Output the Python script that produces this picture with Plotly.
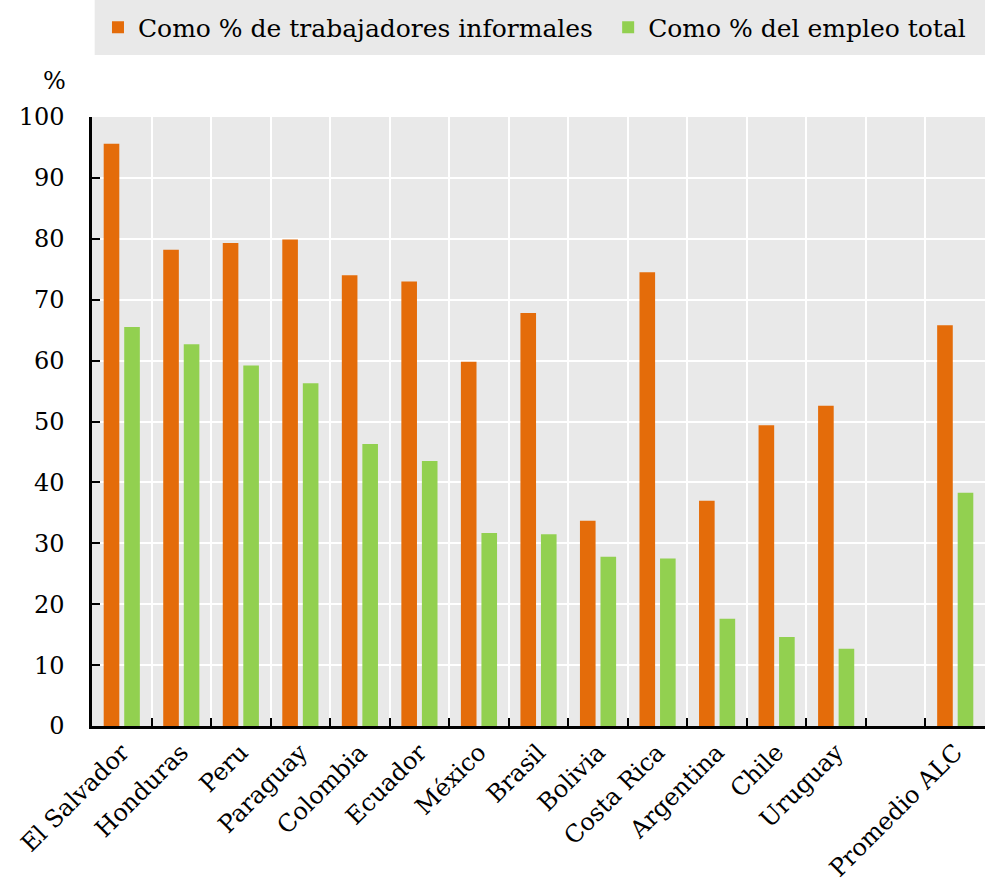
import plotly.graph_objects as go

categories = ["El Salvador", "Honduras", "Peru", "Paraguay", "Colombia", "Ecuador",
              "México", "Brasil", "Bolivia", "Costa Rica", "Argentina", "Chile",
              "Uruguay", " ", "Promedio ALC"]
informales = [95.6, 78.2, 79.3, 79.9, 74.0, 73.0, 59.8, 67.8, 33.7, 74.5, 37.0, 49.4, 52.6, None, 65.8]
empleo_total = [65.5, 62.7, 59.2, 56.3, 46.3, 43.5, 31.7, 31.5, 27.8, 27.5, 17.6, 14.6, 12.7, None, 38.3]
series_names = ["Como % de trabajadores informales", "Como % del empleo total"]
y_ticks = [0, 10, 20, 30, 40, 50, 60, 70, 80, 90, 100]

FONT = "Georgia, 'DejaVu Serif', serif"

fig = go.Figure()
fig.add_trace(go.Bar(x=categories, y=informales, name=series_names[0], legend="legend",
                     marker=dict(color="#e46c0a", line=dict(width=0))))
fig.add_trace(go.Bar(x=categories, y=empleo_total, name=series_names[1], legend="legend2",
                     marker=dict(color="#92d050", line=dict(width=0))))

legend_common = dict(orientation="h", xanchor="left", y=1.147, yanchor="middle",
                     bgcolor="rgba(0,0,0,0)", font=dict(size=25, family=FONT),
                     itemwidth=30, itemclick=False, itemdoubleclick=False)

fig.update_layout(
    width=986, height=885,
    margin=dict(l=92, r=1, t=117, b=159, autoexpand=False),
    paper_bgcolor="white",
    plot_bgcolor="#e9e9e9",
    barmode="group",
    bargap=0.31,
    bargroupgap=0.24,
    font=dict(family=FONT, color="black"),
    showlegend=True,
    legend=dict(x=0.0067, **legend_common),
    legend2=dict(x=0.578, **legend_common),
    shapes=[dict(type="rect", xref="paper", yref="paper",
                 x0=0.003, x1=1.0, y0=1.102, y1=1.192,
                 fillcolor="#e9e9e9", line=dict(width=0), layer="below")],
    annotations=[dict(text="%", xref="paper", yref="paper", x=-0.042, y=1.033,
                      xanchor="center", yanchor="bottom", showarrow=False,
                      font=dict(size=24, family=FONT))],
)

fig.update_xaxes(
    type="category", categoryorder="array", categoryarray=categories,
    tickangle=-45, tickfont=dict(size=24, family=FONT),
    showline=True, linecolor="black", linewidth=2.5,
    ticks="inside", ticklen=8, tickwidth=2, tickcolor="black",
    tickson="boundaries", automargin=False,
    showgrid=True, gridcolor="white", gridwidth=2,
)
fig.update_yaxes(
    range=[0, 100], tickvals=y_ticks,
    tickfont=dict(size=24, family=FONT),
    showline=True, linecolor="black", linewidth=2.5,
    ticks="inside", ticklen=8, tickwidth=2, tickcolor="black",
    showgrid=True, gridcolor="white", gridwidth=2, automargin=False,
    zeroline=False, ticklabelstandoff=20,
)

fig.write_html("out.html", config={"displayModeBar": False},
               post_script="document.body.style.margin='0';document.body.style.overflow='hidden';")
